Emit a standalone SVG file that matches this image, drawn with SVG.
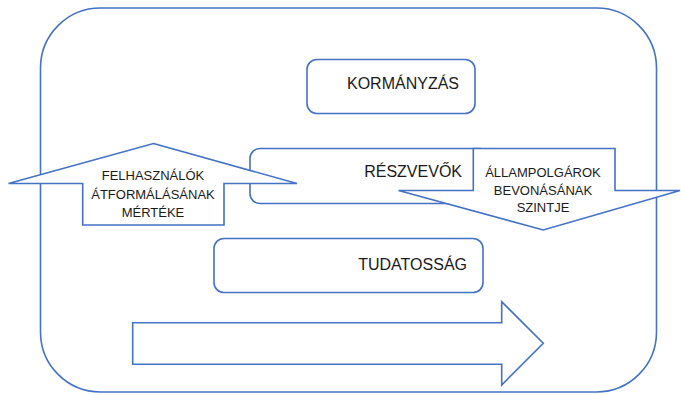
<svg xmlns="http://www.w3.org/2000/svg" width="681" height="395" viewBox="0 0 681 395">
<style>
.s{fill:#fff;stroke:#4472C4;stroke-width:1.6;stroke-linejoin:miter}
.t{font-family:"Liberation Sans",Arial,sans-serif;fill:#1a1a1a}
.big{font-size:16px}
.sm{font-size:13px;text-anchor:middle}
</style>
<rect width="681" height="395" fill="#fff"/>
<g id="frame"><rect class="s" x="40.5" y="8" width="616" height="384" rx="60" ry="60" stroke-width="2"/></g>
<g id="kormanyzas"><rect class="s" x="307" y="59.5" width="168" height="54" rx="10"/><text class="t big" x="459" y="88.5" text-anchor="end">KORMÁNYZÁS</text></g>
<g id="reszvevok"><rect class="s" x="250" y="148.5" width="240" height="55" rx="10"/><text class="t big" x="462" y="177" text-anchor="end">RÉSZVEVŐK</text></g>
<g id="tudatossag"><rect class="s" x="214" y="238.5" width="269" height="54" rx="10"/><text class="t big" x="467" y="269.5" text-anchor="end">TUDATOSSÁG</text></g>
<g id="connectors">
<g id="up-arrow"><polygon class="s" points="153.5,143.5 297,183.5 224,183.5 224,225 82.7,225 82.7,183.5 8.5,183.5"/><text class="t sm" x="153" y="180">FELHASZNÁLÓK</text><text class="t sm" x="153" y="198.5">ÁTFORMÁLÁSÁNAK</text><text class="t sm" x="153" y="217">MÉRTÉKE</text></g>
<g id="down-arrow"><polygon class="s" points="473.3,148.5 615,148.5 615,190.5 680,190.5 543.3,230 398.5,190.5 473.3,190.5"/><text class="t sm" x="543" y="176.7">ÁLLAMPOLGÁROK</text><text class="t sm" x="543" y="195">BEVONÁSÁNAK</text><text class="t sm" x="543" y="212">SZINTJE</text></g>
<g id="right-arrow"><polygon class="s" points="132.7,322.7 501.7,322.7 501.7,301.7 543.3,343.3 501.7,385 501.7,364.3 132.7,364.3"/></g>
</g>
</svg>
